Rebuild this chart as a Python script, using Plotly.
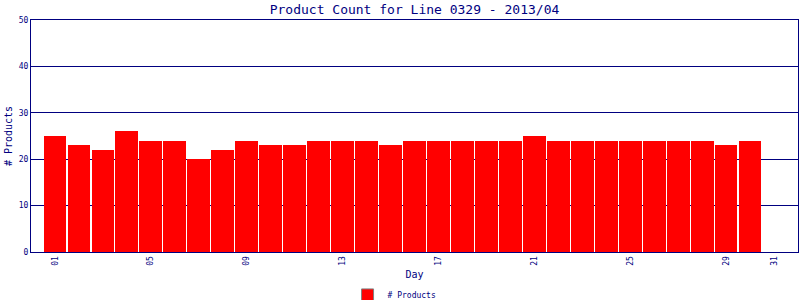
import plotly.graph_objects as go

days = list(range(1, 31))
products = [25, 23, 22, 26, 24, 24, 20, 22, 24, 23, 23, 24, 24, 24, 23,
            24, 24, 24, 24, 24, 25, 24, 24, 24, 24, 24, 24, 24, 23, 24]
tick_vals = [1, 5, 9, 13, 17, 21, 25, 29, 31]
tick_text = ["01", "05", "09", "13", "17", "21", "25", "29", "31"]
y_ticks = [0, 10, 20, 30, 40, 50]

NAVY = "#000080"
FONT = "DejaVu Sans Mono"

fig = go.Figure()
fig.add_trace(go.Bar(
    x=days, y=products, width=0.95, name="# Products", showlegend=False,
    marker=dict(color="#FF0000", line=dict(width=0)),
))
fig.add_trace(go.Bar(
    x=[None], y=[None], name="# Products", showlegend=True,
    marker=dict(color="#FF0000", line=dict(color="#808080", width=1)),
))

fig.update_layout(
    width=800, height=300,
    margin=dict(l=31, r=2, t=20, b=48, autoexpand=False),
    paper_bgcolor="white", plot_bgcolor="white",
    font=dict(family=FONT, color=NAVY),
    title=dict(text="Product Count for Line 0329 - 2013/04",
               font=dict(family=FONT, size=13, color=NAVY),
               x=0.5, xref="paper", xanchor="center",
               y=0.97, yref="container", yanchor="middle"),
    bargap=0,
    showlegend=True,
    legend=dict(orientation="h", x=0.474, xanchor="center",
                y=-0.185, yanchor="middle",
                font=dict(family=FONT, size=8, color=NAVY),
                itemwidth=30, tracegroupgap=0),
    xaxis=dict(range=[0, 32], tickvals=tick_vals, ticktext=tick_text,
               tickangle=-90, tickfont=dict(family=FONT, size=8, color=NAVY),
               showgrid=False, zeroline=False,
               showline=True, linecolor=NAVY, linewidth=1, mirror=True,
               ticks="",
               title=dict(text="Day", font=dict(family=FONT, size=10, color=NAVY),
                          standoff=6)),
    yaxis=dict(range=[0, 50], tickvals=y_ticks,
               tickfont=dict(family=FONT, size=8, color=NAVY),
               showgrid=True, gridcolor=NAVY, gridwidth=1,
               zeroline=False,
               showline=True, linecolor=NAVY, linewidth=1, mirror=True,
               ticks="",
               title=dict(text="# Products", font=dict(family=FONT, size=10, color=NAVY),
                          standoff=4)),
)

fig.write_html("out.html")
